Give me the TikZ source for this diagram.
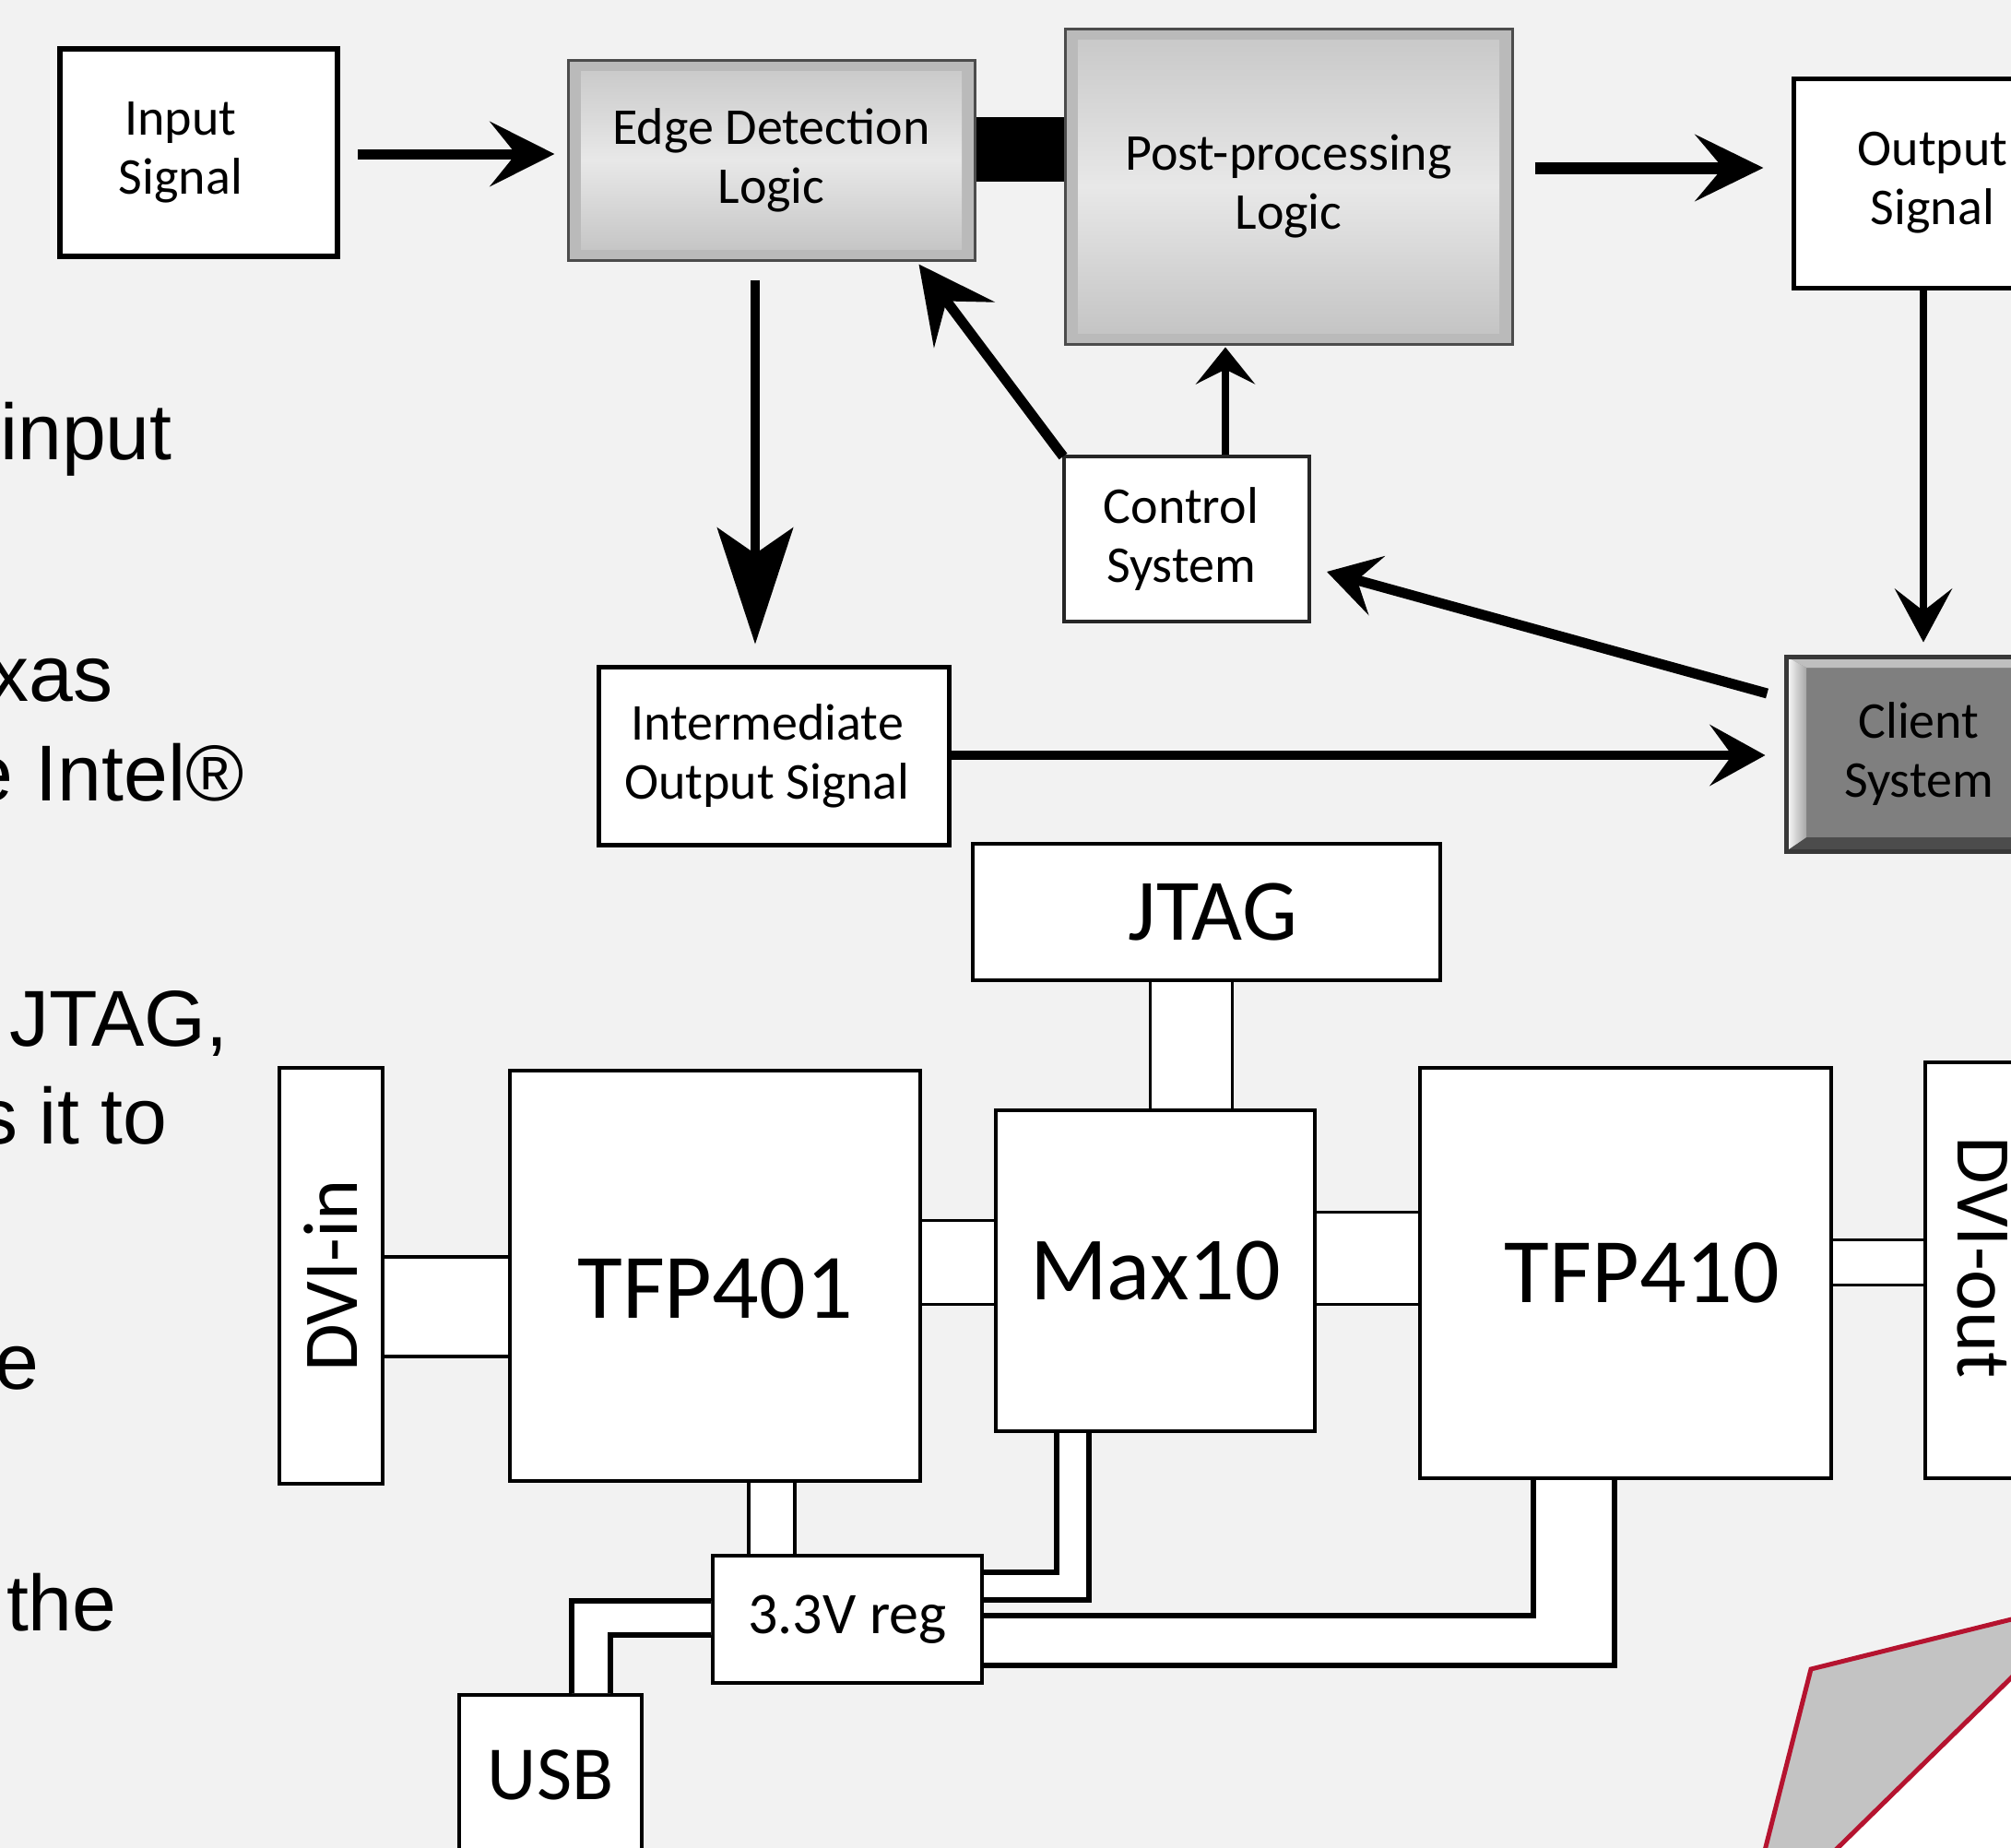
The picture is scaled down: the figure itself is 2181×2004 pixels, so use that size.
\documentclass[tikz,border=0pt]{standalone}
\usepackage{fontspec}
\setmainfont{Liberation Sans}
\newfontfamily\carl{Carlito}
\usetikzlibrary{arrows.meta,calc}
\definecolor{bg}{HTML}{F2F2F2}
\definecolor{redline}{HTML}{B5132F}
\definecolor{polygray}{HTML}{C3C3C3}
\definecolor{clientgray}{HTML}{7F7F7F}
\begin{document}
\begin{tikzpicture}[x=0.5pt,y=-0.5pt,
  lefttext/.style={font=\fontsize{43}{52}\selectfont, inner sep=0pt, anchor=base east},
  wbox/.style={draw=black, fill=white, line width=2.5pt, inner sep=0pt, align=center,
    font=\carl\fontsize{28}{32}\selectfont},
  metal/.style={draw=black!70, line width=1.5pt, fill=black!27, inner sep=0pt, align=center,
    font=\carl\fontsize{28}{32}\selectfont,
    path picture={\shade[top color=black!22, bottom color=black!24, middle color=black!9]
      ([xshift=7pt,yshift=-6pt]path picture bounding box.north west) rectangle
      ([xshift=-7pt,yshift=6pt]path picture bounding box.south east);}},
  clientbox/.style={draw=black!78, line width=2.5pt, fill=clientgray, inner sep=0pt, align=center,
    font=\carl\fontsize{28}{32}\selectfont,
    path picture={
      \fill[black!25] (path picture bounding box.north west) -- (path picture bounding box.north east)
        -- ([yshift=-6pt]path picture bounding box.north east) -- ([xshift=11pt,yshift=-6pt]path picture bounding box.north west) -- cycle;
      \fill[black!70] (path picture bounding box.south west) -- (path picture bounding box.south east)
        -- ([yshift=7.5pt]path picture bounding box.south east) -- ([xshift=11pt,yshift=7.5pt]path picture bounding box.south west) -- cycle;
      \shade[left color=white, right color=black!35] (path picture bounding box.north west) -- ([xshift=11pt,yshift=-6pt]path picture bounding box.north west)
        -- ([xshift=11pt,yshift=7.5pt]path picture bounding box.south west) -- (path picture bounding box.south west) -- cycle;}},
  bbox/.style={draw=black, fill=white, line width=2pt, inner sep=0pt, align=center},
  busline/.style={draw=black, line width=1.5pt},
  busthick/.style={draw=black, line width=2pt},
  busL/.style={draw=black, line width=2.75pt},
  ]
\useasboundingbox (0,0) rectangle (2181,2004);
\clip (0,0) rectangle (2181,2004);
\fill[bg] (0,0) rectangle (2181,2004);

% ---- left slide text fragments
\node[lefttext] (t1) at (187,498) {input};
\node[lefttext] (t2) at (123,760) {xas};
\node[lefttext] (t3) at (265,868) {e Intel®};
\node[lefttext] (t4) at (248,1134) {JTAG,};
\node[lefttext] (t5) at (182,1240) {s it to};
\node[lefttext] (t6) at (43,1506) {e};
\node[lefttext] (t7) at (127,1768) {the};

% ---- red corner shape
\fill[polygray] (1964,1810) -- (2250,1739) -- (2250,1752) -- (1946,2050) -- (1903,2050) -- cycle;
\fill[white] (2250,1752) -- (1946,2050) -- (2250,2050) -- cycle;
\draw[redline, line width=2.5pt, line join=miter] (1903,2050) -- (1964,1810) -- (2250,1739);
\draw[redline, line width=2.5pt] (2250,1752) -- (1946,2050);

% ---- top diagram nodes
\node[wbox, line width=3pt, minimum width=150.5pt, minimum height=112.5pt] (inp) at (215.5,165.5) {Input\hspace*{19.5pt}\\Signal\hspace*{19.5pt}};
\node[metal, minimum width=220.5pt, minimum height=108.5pt] (edge) at (836.5,173.5) {Edge Detection\\Logic};
\node[metal, minimum width=242.5pt, minimum height=171pt] (post) at (1397.5,202.5) {Post-processing\\Logic};
\node[wbox, minimum width=151pt, minimum height=113.5pt] (out) at (2096,198.5) {Output\\Signal};
\node[clientbox, minimum width=144pt, minimum height=105.5pt] (client) at (2081,817.5) {Client\\System};
\node[wbox, draw=black!85, line width=2pt, minimum width=133pt, minimum height=89.5pt] (ctrl) at (1287,584.5) {Control\hspace*{6pt}\\System\hspace*{6pt}};
\node[wbox, minimum width=190pt, minimum height=96.5pt] (inter) at (839,819.5) {Intermediate\hspace*{7pt}\\Output Signal\hspace*{7pt}};

% black bar between edge detection and post-processing
\coordinate (ybar) at (0,162);
\draw[line width=35pt] (edge.east |- ybar) -- (post.west |- ybar);

% ---- top diagram arrows
\draw[line width=5.5pt, -{Stealth[length=35pt,width=35pt,inset=14pt]}] ($(inp.east)+(19,1.5)$) -- ($(edge.west)+(-13,-6.5)$);
\draw[line width=6.5pt, -{Stealth[length=37pt,width=36pt,inset=15pt]}] ($(post.east)+(23,-20.5)$) -- ($(out.west)+(-30,-16.5)$);
\draw[line width=4pt, -{Stealth[length=29pt,width=31pt,inset=12pt]}] ($(out.south)+(-10,0)$) -- ($(client.north)+(5,-13)$);
\draw[line width=5.5pt, -{Stealth[length=28pt,width=33pt,inset=11pt]}] ($(client.west)+(-18,-65.5)$) -- ($(ctrl.east)+(17,35.5)$);
\draw[line width=5pt, -{Stealth[length=30pt,width=33pt,inset=12pt]}] ($(inter.east)+(0,-0.5)$) -- ($(client.west)+(-20,1.5)$);
\draw[line width=5pt, -{Stealth[length=63pt,width=41pt,inset=14pt]}] ($(edge.south)+(-17.5,20)$) -- ($(inter.north)+(-20,-22)$);
\draw[line width=4pt, -{Stealth[length=20pt,width=32pt,inset=8pt]}] ($(ctrl.north)+(42,0)$) -- ($(post.south)+(-68.5,1.5)$);
\draw[line width=5.5pt, -{Stealth[length=41pt,width=41pt,inset=16pt]}] ($(ctrl.north west)+(1,2)$) -- ($(edge.south east)+(-62,3)$);

% ---- bottom diagram nodes
\node[bbox, minimum width=56pt, minimum height=225.5pt, font=\carl\fontsize{42}{48}\selectfont] (dviin) at (359,1383.5) {\rotatebox{90}{DVI-in}};
\node[bbox, minimum width=222.5pt, minimum height=222.5pt, text height=46pt, font=\carl\fontsize{50}{58}\selectfont] (tfp401) at (775.5,1383.5) {TFP401};
\node[bbox, minimum width=173pt, minimum height=174pt, font=\carl\fontsize{49}{58}\selectfont] (max10) at (1253,1378) {Max10};
\node[bbox, minimum width=253.5pt, minimum height=74pt, font=\carl\fontsize{47.5}{56}\selectfont] (jtag) at (1308.5,989) {\hspace*{7pt}JTAG};
\node[bbox, minimum width=223pt, minimum height=222.5pt, font=\carl\fontsize{50}{58}\selectfont] (tfp410) at (1763,1380.5) {\hspace*{18pt}TFP410};
\node[bbox, minimum width=62pt, minimum height=225.5pt, font=\carl\fontsize{42}{48}\selectfont] (dviout) at (2150,1377.5) {\rotatebox{-90}{DVI-out\hspace*{14pt}}};
\node[bbox, minimum width=146pt, minimum height=69pt, font=\carl\fontsize{32}{38}\selectfont] (reg) at (919,1756) {3.3V reg};
\node[bbox, minimum width=99pt, minimum height=87pt, font=\carl\fontsize{41.5}{48}\selectfont] (usb) at (597,1925) {USB};

% ---- bus connectors (white band between two black lines)
\path (0,1363) coordinate (a1) (0,1471) coordinate (a2)
      (0,1323) coordinate (b1) (0,1414) coordinate (b2)
      (1247,0) coordinate (c1) (1336,0) coordinate (c2)
      (0,1314) coordinate (d1) (0,1414) coordinate (d2)
      (0,1344) coordinate (e1) (0,1393) coordinate (e2)
      (812,0) coordinate (f1) (862,0) coordinate (f2)
      (1146,1705) coordinate (q1) (1181,1735) coordinate (q2)
      (1663,1752) coordinate (p1) (1751,1806) coordinate (p2)
      (662,1773) coordinate (u1) (620,1736) coordinate (u2);

\fill[white] (dviin.east |- a1) rectangle (tfp401.west |- a2);
\draw[busthick] (dviin.east |- a1) -- (tfp401.west |- a1);
\draw[busthick] (dviin.east |- a2) -- (tfp401.west |- a2);

\fill[white] (tfp401.east |- b1) rectangle (max10.west |- b2);
\draw[busline] (tfp401.east |- b1) -- (max10.west |- b1);
\draw[busline] (tfp401.east |- b2) -- (max10.west |- b2);

\fill[white] (jtag.south -| c1) rectangle (max10.north -| c2);
\draw[busline] (jtag.south -| c1) -- (max10.north -| c1);
\draw[busline] (jtag.south -| c2) -- (max10.north -| c2);

\fill[white] (max10.east |- d1) rectangle (tfp410.west |- d2);
\draw[busline] (max10.east |- d1) -- (tfp410.west |- d1);
\draw[busline] (max10.east |- d2) -- (tfp410.west |- d2);

\fill[white] (tfp410.east |- e1) rectangle (dviout.west |- e2);
\draw[busline] (tfp410.east |- e1) -- (dviout.west |- e1);
\draw[busline] (tfp410.east |- e2) -- (dviout.west |- e2);

\fill[white] (tfp401.south -| f1) rectangle (reg.north -| f2);
\draw[busthick] (tfp401.south -| f1) -- (reg.north -| f1);
\draw[busthick] (tfp401.south -| f2) -- (reg.north -| f2);

\fill[white] (max10.south -| q1) |- (reg.east |- q1) -- (reg.east |- q2) -| (max10.south -| q2) -- cycle;
\draw[busL] (max10.south -| q1) |- (reg.east |- q1);
\draw[busL] (max10.south -| q2) |- (reg.east |- q2);

\fill[white] (tfp410.south -| p1) |- (reg.east |- p1) -- (reg.east |- p2) -| (tfp410.south -| p2) -- cycle;
\draw[busL] (tfp410.south -| p1) |- (reg.east |- p1);
\draw[busL] (tfp410.south -| p2) |- (reg.east |- p2);

\fill[white] (usb.north -| u2) |- (reg.west |- u2) -- (reg.west |- u1) -| (usb.north -| u1) -- cycle;
\draw[busL] (usb.north -| u2) |- (reg.west |- u2);
\draw[busL] (usb.north -| u1) |- (reg.west |- u1);
\end{tikzpicture}
\end{document}
